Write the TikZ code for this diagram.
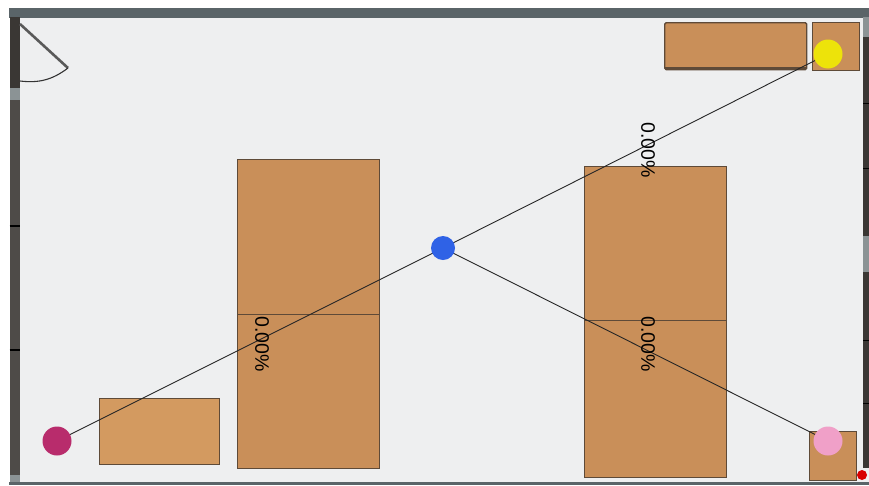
\documentclass[tikz,border=0pt]{standalone}
\usepackage{fontspec}
\setmainfont{Liberation Sans}
\definecolor{floorgray}{HTML}{EEEFF0}
\definecolor{wallgray}{HTML}{5A6468}
\definecolor{walldark}{HTML}{3A3734}
\definecolor{tablebrown}{HTML}{C98F59}
\definecolor{tablelight}{HTML}{D39A60}
\definecolor{edgebrown}{HTML}{5E4A38}
\definecolor{apyellow}{HTML}{EDE30A}
\definecolor{apblue}{HTML}{2F62E6}
\definecolor{apmagenta}{HTML}{B82C6C}
\definecolor{appink}{HTML}{F0A0C8}
\tikzset{
  tablebox/.style={draw=edgebrown, fill=tablebrown, line width=1.4pt, inner sep=0pt, anchor=north west},
  apdot/.style={circle, minimum size=29pt, inner sep=0pt},
  link/.style={draw=black!85, line width=0.9pt},
  percent/.style={rotate=-90, font=\fontsize{19.5pt}{20pt}\selectfont, text=black, inner sep=0pt},
  wall/.style={line width=10pt, draw=walldark},
  partline/.style={draw=edgebrown, line width=0.8pt},
}
\begin{document}
\begin{tikzpicture}[x=1pt, y=-1pt]
  \useasboundingbox (0,0) rectangle (869,485);
  % room
  \fill[white] (0,0) rectangle (869,485);
  \fill[floorgray] (12,14) rectangle (869,482);
  \draw[wallgray, line width=10pt] (9,12.5) -- (869,12.5);
  \draw[wallgray, line width=3pt] (9,483.5) -- (869,483.5);
  % left and right walls
  \draw[wallgray!70, line width=6pt] (866,17) -- (866,37);
  \draw[wallgray!70, line width=6pt] (866,236) -- (866,272);
  \draw[wallgray!70, line width=10pt] (14.5,88) -- (14.5,100);
  \draw[wallgray!70, line width=10pt] (14.5,475) -- (14.5,482);
  \draw[wall] (14.5,17) -- (14.5,88);
  \draw[wall, draw=walldark!90] (14.5,100) -- (14.5,475);
  \draw[wall, line width=6pt] (866,37) -- (866,236);
  \draw[wall, line width=6pt] (866,272) -- (866,468);
  \foreach \y in {226,350}
    \draw[black, line width=1.2pt] (9.5,\y) -- (19.5,\y);
  \foreach \y in {103,168,340,403}
    \draw[black, line width=1pt] (863,\y) -- (869,\y);
  % door
  \draw[black!65, line width=2.6pt] (20,24) -- (68,68);
  \draw[black!80, line width=1.1pt] (68,68) to[bend left=22] (20,81);
  % tables
  \node[tablebox, minimum width=142pt, minimum height=309pt] (tableA) at (237,159) {};
  \node[tablebox, minimum width=142pt, minimum height=311pt] (tableB) at (584,166) {};
  \node[tablebox, fill=tablelight, minimum width=120pt, minimum height=66pt] (tableC) at (99,398) {};
  \node[tablebox, minimum width=142pt, minimum height=47pt, rounded corners=1.5pt] (tableD) at (664,22) {};
  \node[tablebox, minimum width=47pt, minimum height=48pt] (tableE) at (812,22) {};
  \node[tablebox, minimum width=47pt, minimum height=49pt] (tableF) at (809,431) {};
  \draw[partline] (tableA.west |- 0,314) -- (tableA.east |- 0,314);
  \draw[partline] (tableB.west |- 0,320) -- (tableB.east |- 0,320);
  \draw[edgebrown, line width=3pt] ([xshift=1pt, yshift=1.5pt]tableD.south west) -- ([xshift=-1pt, yshift=1.5pt]tableD.south east);
  % links
  \coordinate (hub) at (443,248);
  \coordinate (hubY) at (828,54);
  \coordinate (hubM) at (57,441);
  \coordinate (hubP) at (828,441);
  \draw[link] (hub) -- (hubY);
  \draw[link] (hub) -- (hubM);
  \draw[link] (hub) -- (hubP);
  % access points
  \node[apdot, fill=apblue, minimum size=24pt] (apCenter) at (hub) {};
  \node[apdot, fill=apyellow] (apYellow) at (hubY) {};
  \node[apdot, fill=apmagenta] (apMagenta) at (hubM) {};
  \node[apdot, fill=appink] (apPink) at (hubP) {};
  \fill[red!85!black] (862,475) circle (5pt);
  % labels
  \node[percent] (labelA) at (262,344) {0.00\%};
  \node[percent] (labelB) at (648,150) {0.00\%};
  \node[percent] (labelC) at (648,344) {0.00\%};
\end{tikzpicture}
\end{document}
